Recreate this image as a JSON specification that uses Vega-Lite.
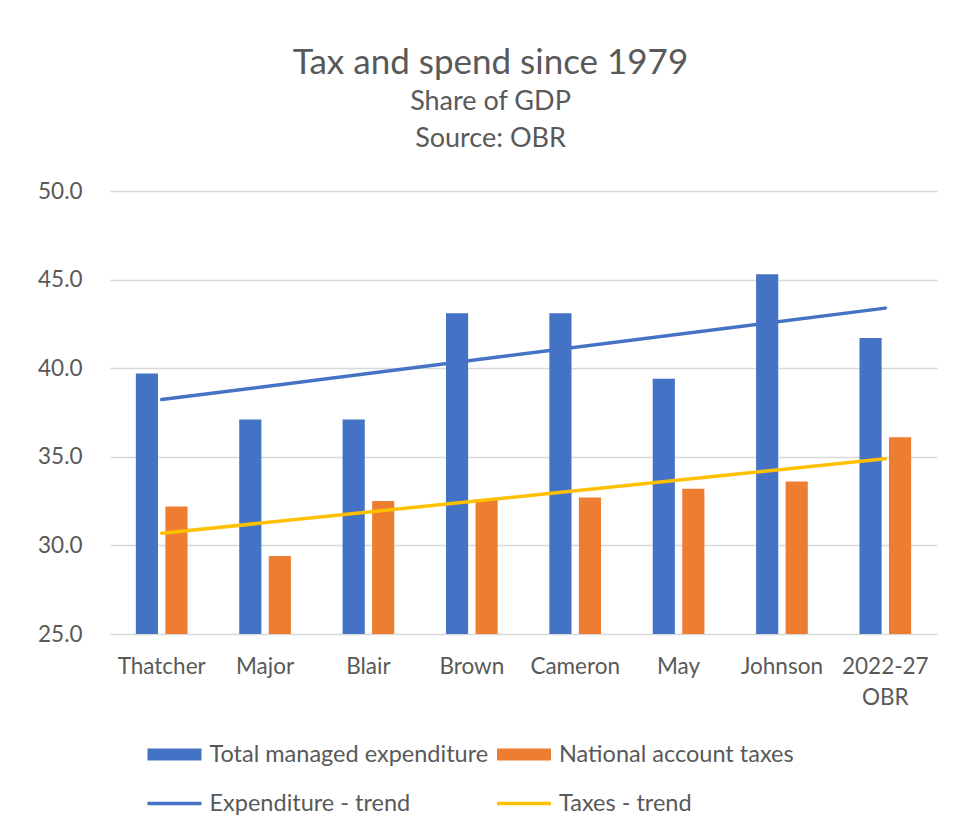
{
  "$schema": "https://vega.github.io/schema/vega-lite/v6.json",
  "autosize": {"type": "none"},
  "width": 827,
  "height": 443,
  "padding": {"left": 110, "top": 191, "right": 20, "bottom": 195},
  "background": "white",
  "title": {
    "text": "Tax and spend since 1979",
    "subtitle": ["Share of GDP", "Source: OBR"],
    "anchor": "middle",
    "dx": -33,
    "offset": 28,
    "font": "Lato",
    "fontSize": 35,
    "fontWeight": "normal",
    "color": "#595959",
    "subtitleFont": "Lato",
    "subtitleFontSize": 27,
    "subtitleColor": "#595959",
    "subtitlePadding": 8,
    "subtitleLineHeight": 37
  },
  "config": {
    "view": {"stroke": null},
    "axis": {"labelFont": "Lato", "labelColor": "#595959", "labelFontSize": 22.5, "domain": false, "ticks": false, "title": null}
  },
  "datasets": {
    "bars": [
      {"party": "Thatcher", "series": "Total managed expenditure", "value": 39.7},
      {"party": "Thatcher", "series": "National account taxes", "value": 32.2},
      {"party": "Major", "series": "Total managed expenditure", "value": 37.1},
      {"party": "Major", "series": "National account taxes", "value": 29.4},
      {"party": "Blair", "series": "Total managed expenditure", "value": 37.1},
      {"party": "Blair", "series": "National account taxes", "value": 32.5},
      {"party": "Brown", "series": "Total managed expenditure", "value": 43.1},
      {"party": "Brown", "series": "National account taxes", "value": 32.6},
      {"party": "Cameron", "series": "Total managed expenditure", "value": 43.1},
      {"party": "Cameron", "series": "National account taxes", "value": 32.7},
      {"party": "May", "series": "Total managed expenditure", "value": 39.4},
      {"party": "May", "series": "National account taxes", "value": 33.2},
      {"party": "Johnson", "series": "Total managed expenditure", "value": 45.3},
      {"party": "Johnson", "series": "National account taxes", "value": 33.6},
      {"party": "2022-27 OBR", "series": "Total managed expenditure", "value": 41.7},
      {"party": "2022-27 OBR", "series": "National account taxes", "value": 36.1}
    ],
    "trends": [
      {"party": "Thatcher", "series": "Expenditure - trend", "value": 38.23},
      {"party": "2022-27 OBR", "series": "Expenditure - trend", "value": 43.39},
      {"party": "Thatcher", "series": "Taxes - trend", "value": 30.68},
      {"party": "2022-27 OBR", "series": "Taxes - trend", "value": 34.89}
    ]
  },
  "encoding": {
    "x": {
      "field": "party", "type": "nominal",
      "sort": ["Thatcher", "Major", "Blair", "Brown", "Cameron", "May", "Johnson", "2022-27 OBR"],
      "scale": {"paddingInner": 0.5, "paddingOuter": 0.25},
      "axis": {"labelAngle": 0, "labelPadding": 21, "labelLineHeight": 31, "labelExpr": "datum.value == '2022-27 OBR' ? ['2022-27', 'OBR'] : datum.value"}
    },
    "y": {
      "field": "value", "type": "quantitative",
      "scale": {"domain": [25, 50], "zero": false, "nice": false},
      "axis": {"values": [25, 30, 35, 40, 45, 50], "format": ".1f", "labelPadding": 28, "gridColor": "#D9D9D9", "gridWidth": 1.5}
    },
    "color": {
      "field": "series", "type": "nominal",
      "scale": {
        "domain": ["Total managed expenditure", "National account taxes", "Expenditure - trend", "Taxes - trend"],
        "range": ["#4472C4", "#ED7D31", "#4472C4", "#FFC000"]
      },
      "legend": {
        "orient": "none", "legendX": 51, "legendY": 550, "columns": 2, "title": null,
        "direction": "horizontal",
        "symbolType": "M-2,-0.44H2V0.44H-2Z", "symbolSize": 729,
        "symbolStrokeWidth": 0,
        "labelFont": "Lato", "labelFontSize": 23.5, "labelColor": "#595959", "labelLimit": 500,
        "labelOffset": 21.5, "columnPadding": 7.5, "rowPadding": 24,
        "gridAlign": "all",
        "encode": {
          "symbols": {"update": {
            "shape": {"signal": "indexof(['Expenditure - trend','Taxes - trend'], datum.value) >= 0 ? 'M-2,-0.13H2V0.13H-2Z' : 'M-2,-0.44H2V0.44H-2Z'"},
            "fill": {"scale": "color", "field": "value"},
            "stroke": {"value": "transparent"},
            "opacity": {"value": 1}
          }}
        }
      }
    }
  },
  "layer": [
    {
      "data": {"name": "bars"},
      "mark": {"type": "bar"},
      "encoding": {
        "xOffset": {"field": "series", "type": "nominal", "sort": ["Total managed expenditure", "National account taxes"], "scale": {"paddingInner": 0.25, "paddingOuter": 0}},
        "y2": {"datum": 25}
      }
    },
    {
      "data": {"name": "trends"},
      "mark": {"type": "line", "strokeWidth": 3.5, "strokeCap": "round"},
      "encoding": {}
    }
  ]
}
